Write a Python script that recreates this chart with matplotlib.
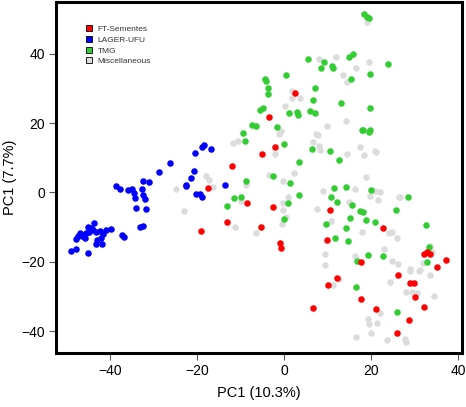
import numpy as np
import matplotlib.pyplot as plt
from matplotlib.lines import Line2D

plt.rcParams['font.family'] = ['Liberation Sans', 'DejaVu Sans']

# PCA scores (PC1 on x, second component on y)
blue_x = [-18.4, -18.9, -16.8, -20.4, -26.1, -28.7, -20.6, -21.4, -22.5, -22.6,
          -32.4, -31.0, -38.6, -37.6, -35.9, -34.9, -32.6, -34.5, -32.3, -34.3,
          -32.0, -20.2, -19.3, -18.9, -13.6, -34.1, -31.7, -33.0, -32.3, -37.3,
          -36.8, -43.7, -45.1, -44.4, -43.8, -43.2, -42.3, -40.8, -39.7, -46.9,
          -46.1, -45.4, -44.8, -47.3, -47.7, -46.5, -42.1, -42.9, -43.3, -41.8,
          -47.7, -49.0, -45.0, -44.0, -41.5, -45.8]
blue_y = [13.7, 13.2, 12.4, 11.3, 8.6, 5.8, 6.1, 4.0, 2.2, 1.7,
          3.2, 3.0, 1.8, 0.9, 0.6, 1.1, 0.9, -0.3, -0.7, -1.6,
          -1.9, -0.6, -0.6, -1.4, 2.0, -4.4, -4.8, -10.0, -9.7, -12.3,
          -12.9, -8.9, -10.1, -10.3, -11.0, -11.4, -11.1, -10.9, -10.6, -11.8,
          -12.2, -11.8, -11.3, -12.7, -13.5, -12.5, -13.1, -13.7, -14.9, -14.8,
          -16.2, -16.8, -17.5, -10.6, -12.0, -13.3]

red_x = [-17.4, -19.1, 2.6, -3.5, -2.1, -5.1, -12.0, -8.4, -2.6, -13.0,
         -5.2, -0.9, -0.6, 10.6, 22.7, 9.9, 17.7, 32.3, 32.9, 33.6,
         37.3, 35.2, 26.2, 12.1, 10.2, 29.0, 30.0, 30.1, 17.7, 32.3,
         21.1, 6.8, 28.7, 26.0]
red_y = [1.3, -11.1, 28.6, 21.7, 13.1, 11.1, 7.7, -3.2, -4.2, -8.6,
         -9.9, -14.6, -16.0, -5.0, -10.2, -13.7, -20.1, -17.7, -17.3, -17.7,
         -19.5, -21.6, -23.9, -24.6, -26.7, -26.1, -26.1, -30.3, -30.7, -33.0,
         -33.7, -33.3, -36.8, -40.5]

green_x = [18.4, 19.0, 19.5, 5.6, 9.2, 8.5, 11.0, 11.3, 15.0, 16.0,
           23.9, 0.5, -4.3, -4.1, -3.7, -3.7, 19.9, 15.5, 7.2, 6.6,
           13.1, 19.9, -5.4, -4.8, 1.1, 3.0, 3.2, 6.1, 7.2, -7.4,
           -6.3, -1.5, -9.4, -9.0, 0.1, 17.9, 18.2, 19.5, 19.8, 6.5,
           10.6, 12.6, 3.4, -2.6, 1.4, -8.7, 11.6, 14.2, 20.0, -11.4,
           -9.9, -13.0, 3.4, 0.9, 0.0, 10.9, 12.3, 15.6, 17.5, 18.2,
           15.2, 18.9, 21.0, 9.7, 14.2, 11.8, 14.7, 25.8, 28.6, 32.6,
           33.3, 32.8, 19.4, 22.8, 16.9, 16.6, 25.9]
green_y = [51.4, 50.7, 50.2, 38.4, 37.5, 35.8, 36.5, 35.8, 39.0, 40.0,
           36.9, 33.9, 32.6, 32.0, 30.2, 28.5, 34.2, 32.6, 30.1, 26.5,
           25.9, 24.4, 23.7, 24.4, 23.0, 23.2, 22.2, 23.4, 23.0, 19.3,
           19.2, 18.8, 17.1, 14.8, 13.9, 17.9, 17.9, 17.4, 18.1, 12.4,
           11.8, 9.3, 8.9, 4.6, 2.7, 3.3, 1.3, 1.5, 0.8, -1.6,
           -1.2, -3.8, -0.9, -3.2, -7.7, -1.2, -2.8, -3.6, -5.4, -5.8,
           -7.3, -7.9, -8.5, -9.2, -10.4, -13.1, -14.1, -5.1, -1.4, -9.3,
           -15.9, -20.0, -18.1, -18.5, -19.7, -27.4, -34.6]

gray_x = [-18.0, -17.2, -16.2, -24.8, -23.0, 19.2, 8.0, 12.0, 19.5, 16.6,
          13.5, 14.6, 1.9, 1.9, 3.7, 0.3, 14.2, 10.0, -0.7, -1.1,
          7.4, 7.9, -11.6, -10.6, 6.8, 8.0, 8.3, 17.6, 20.9, 21.1,
          14.5, 18.4, -2.0, 2.4, -3.5, 18.9, -0.1, -8.6, 9.0, 16.4,
          21.0, 22.1, 26.4, 26.7, -9.9, -11.3, -6.4, -0.3, -0.1, 1.0,
          0.6, -0.5, 7.6, 10.8, 17.9, 14.9, 19.8, 21.7, 24.1, 24.8,
          26.0, 23.0, 16.3, 24.8, 26.3, 9.5, 9.5, 12.6, 11.2, 24.4,
          29.1, 29.1, 31.0, 31.3, 33.7, 34.0, 32.0, 33.6, 28.0, 29.4,
          30.5, 34.6, 22.1, 19.4, 19.5, 21.3, 20.0, 16.6, 23.7, 27.9,
          28.0]
gray_y = [4.6, 3.6, 1.6, 0.9, -5.4, 49.2, 38.5, 39.0, 37.7, 35.9,
          33.9, 31.8, 29.3, 27.3, 27.2, 24.9, 20.7, 19.0, 17.7, 16.9,
          16.8, 16.6, 14.2, 14.8, 14.6, 13.4, 12.2, 13.0, 12.0, 11.6,
          11.0, 10.7, 11.0, 5.7, 5.0, 4.3, 3.2, 2.0, 0.5, 0.9,
          0.5, 0.1, -1.2, -1.3, -2.4, -9.9, -11.6, -5.2, -3.1, -1.4,
          -7.0, -9.1, -4.8, -8.3, -11.5, -2.7, -1.0, -2.1, -11.8, -11.3,
          -13.3, -16.4, -18.5, -19.7, -20.8, -17.9, -21.0, -25.0, -26.7, -25.9,
          -22.1, -22.8, -22.7, -22.3, -15.6, -17.3, -20.4, -23.7, -28.8, -28.6,
          -29.0, -29.9, -34.7, -36.5, -37.9, -37.7, -40.5, -41.6, -42.7, -42.3,
          -43.1]

groups = ["FT-Sementes", "LAGER-UFU", "TMG", "Miscellaneous"]
colors = ["#ff0000", "#0000ff", "#33cc33", "#dcdcdc"]

fig = plt.figure(figsize=(4.66, 4.07), dpi=100)
ax = fig.add_axes([0.120, 0.133, 0.871, 0.862])

ax.scatter(gray_x, gray_y, s=22, c=colors[3], linewidths=0, zorder=2)
ax.scatter(green_x, green_y, s=22, c=colors[2], linewidths=0, zorder=3)
ax.scatter(red_x, red_y, s=22, c=colors[0], linewidths=0, zorder=4)
ax.scatter(blue_x, blue_y, s=22, c=colors[1], linewidths=0, zorder=5)

ax.set_xlim(-52.4, 40.9)
ax.set_ylim(-46.3, 54.9)
ax.set_xticks([-40, -20, 0, 20, 40])
ax.set_yticks([-40, -20, 0, 20, 40])
ax.tick_params(direction='out', length=5, width=0.8, color='#555555',
               labelsize=10, pad=3)
for sp in ax.spines.values():
    sp.set_linewidth(2.2)
ax.set_xlabel("PC1 (10.3%)", fontsize=10.5, labelpad=6)
ax.set_ylabel("PC1 (7.7%)", fontsize=10.5, labelpad=3)

handles = [Line2D([], [], marker='s', linestyle='none', markersize=4.5,
                  markerfacecolor=c, markeredgecolor='black', markeredgewidth=0.6)
           for c in colors]
ax.legend(handles, groups, loc='upper left', bbox_to_anchor=(0.055, 0.955),
          frameon=False, fontsize=6, handlelength=0.8, handletextpad=0.6,
          labelspacing=0.35, labelcolor='#333333')

plt.savefig("out.png", dpi=100)
